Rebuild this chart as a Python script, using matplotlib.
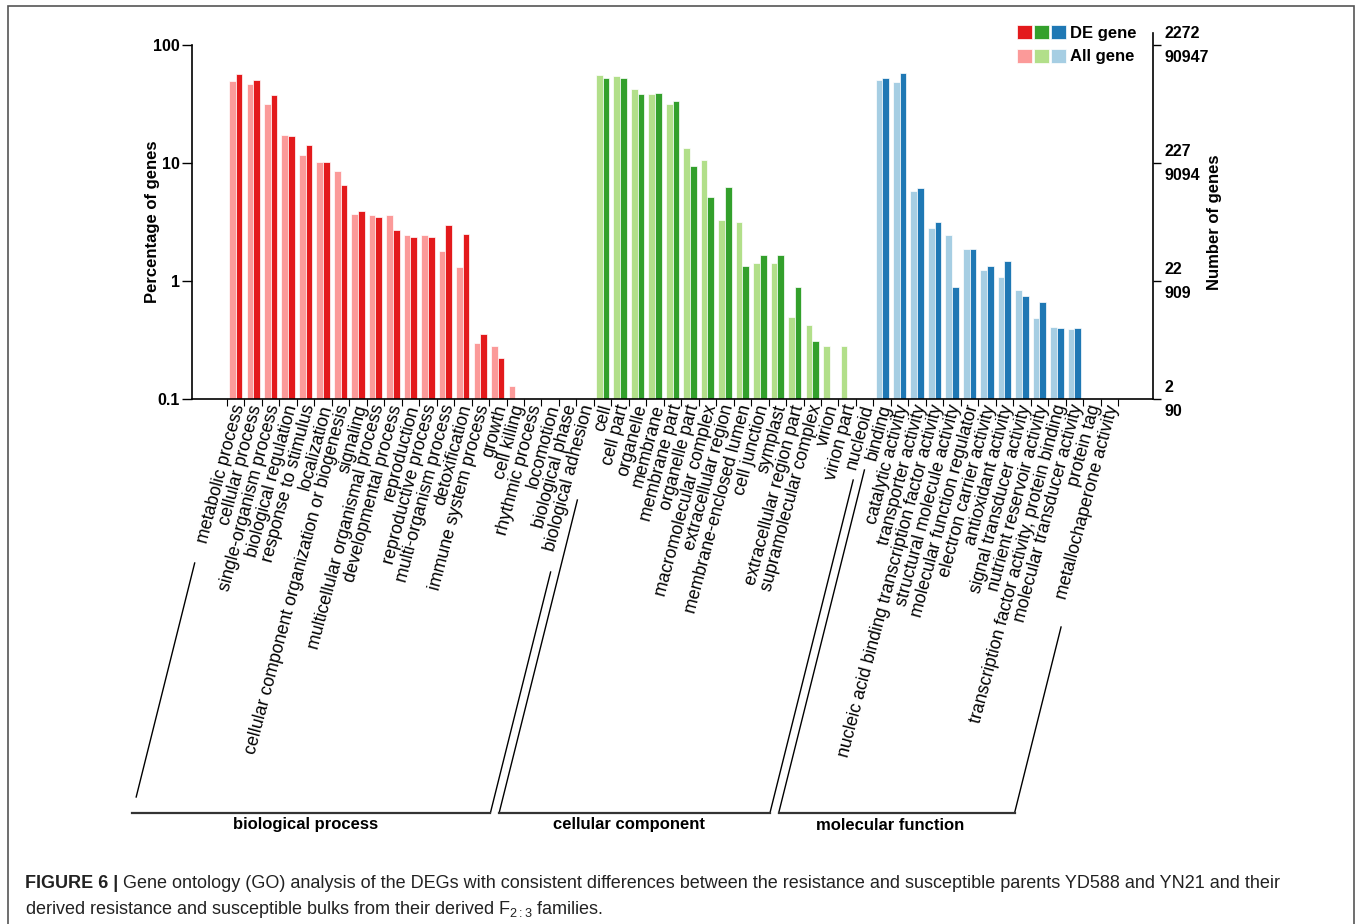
import numpy as np
import matplotlib
matplotlib.use("Agg")
import matplotlib.pyplot as plt
from matplotlib.patches import Patch, Rectangle
from matplotlib.legend_handler import HandlerTuple
from matplotlib.lines import Line2D
from matplotlib.ticker import NullLocator
from matplotlib.transforms import IdentityTransform, ScaledTranslation

plt.rcParams['font.family'] = ['Liberation Sans', 'DejaVu Sans']
plt.rcParams['mathtext.fontset'] = 'custom'
plt.rcParams['mathtext.rm'] = 'Liberation Sans'
plt.rcParams['mathtext.it'] = 'Liberation Sans:italic'
plt.rcParams['mathtext.bf'] = 'Liberation Sans:bold'

nan = np.nan

# biological process
bp_labels = ['metabolic process', 'cellular process', 'single-organism process',
             'biological regulation', 'response to stimulus', 'localization',
             'cellular component organization or biogenesis', 'signaling',
             'multicellular organismal process', 'developmental process',
             'reproduction', 'reproductive process', 'multi-organism process',
             'detoxification', 'immune system process', 'growth', 'cell killing',
             'rhythmic process', 'locomotion', 'biological phase', 'biological adhesion']
bp_all = [49.2, 46.8, 31.7, 17.4, 11.8, 10.2, 8.6, 3.67, 3.65, 3.62, 2.45, 2.45,
          1.81, 1.32, 0.30, 0.28, 0.128, nan, nan, nan, nan]
bp_de = [56.8, 50.2, 37.5, 16.9, 14.3, 10.2, 6.5, 3.94, 3.50, 2.68, 2.36, 2.37,
         3.00, 2.50, 0.354, 0.223, nan, nan, nan, nan, nan]

# cellular component
cc_labels = ['cell', 'cell part', 'organelle', 'membrane', 'membrane part',
             'organelle part', 'macromolecular complex', 'extracellular region',
             'membrane-enclosed lumen', 'cell junction', 'symplast',
             'extracellular region part', 'supramolecular complex', 'virion',
             'virion part', 'nucleoid']
cc_all = [55.4, 55.0, 42.7, 38.7, 31.9, 13.3, 10.7, 3.30, 3.18, 1.41, 1.41,
          0.50, 0.427, 0.282, 0.282, nan]
cc_de = [52.6, 52.6, 38.3, 39.3, 33.8, 9.4, 5.17, 6.24, 1.33, 1.67, 1.67,
         0.884, 0.308, nan, nan, nan]

# molecular function
mf_labels = ['binding', 'catalytic activity', 'transporter activity',
             'nucleic acid binding transcription factor activity',
             'structural molecule activity', 'molecular function regulator',
             'electron carrier activity', 'antioxidant activity',
             'signal transducer activity', 'nutrient reservoir activity',
             'transcription factor activity, protein binding',
             'molecular transducer activity', 'protein tag', 'metallochaperone activity']
mf_all = [50.9, 48.6, 5.81, 2.81, 2.45, 1.85, 1.24, 1.09, 0.834, 0.483, 0.405,
          0.390, nan, nan]
mf_de = [52.9, 58.3, 6.12, 3.16, 0.889, 1.85, 1.33, 1.47, 0.751, 0.668, 0.397,
         0.397, nan, nan]

group_names = ['biological process', 'cellular component', 'molecular function']
de_colors = ['#e31a1c', '#33a02c', '#1f78b4']
all_colors = ['#fb9a99', '#b2df8a', '#a6cee3']

right_ticks = [0.1, 1, 10, 100]
right_labels = ['2\n90', '22\n909', '227\n9094', '2272\n90947']
left_labels = ['0.1', '1', '10', '100']

groups = [(bp_labels, bp_all, bp_de), (cc_labels, cc_all, cc_de), (mf_labels, mf_all, mf_de)]

W, H = 1358, 924
fig = plt.figure(figsize=(W / 100, H / 100), dpi=100)
ax = fig.add_axes([192 / W, 1 - 399 / H, 961 / W, 354 / H])

labels = []
starts = []
pos = 0
for g, (labs, a, d) in enumerate(groups):
    x = np.arange(pos, pos + len(labs))
    starts.append((pos, pos + len(labs) - 1))
    ax.bar(x - 0.19, np.array(a, dtype=float), width=0.38, color=all_colors[g],
           edgecolor='white', linewidth=0.5)
    ax.bar(x + 0.19, np.array(d, dtype=float), width=0.38, color=de_colors[g],
           edgecolor='white', linewidth=0.5)
    labels += labs
    pos += len(labs)

n = len(labels)
ax.set_yscale('log')
ax.set_ylim(0.1, 100)
ax.set_xlim(-2.5, 52.5)
ax.yaxis.set_minor_locator(NullLocator())
ax.set_yticks(right_ticks)
ax.set_yticklabels(left_labels, fontweight='bold', fontsize=11.5)
ax.set_xticks(np.arange(n + 1) - 0.5)
ax.set_xticklabels([])
ax.tick_params(axis='x', length=5, width=0.8, direction='out')
ax.tick_params(axis='y', length=7, width=1, pad=2)
for s in ['top', 'right']:
    ax.spines[s].set_visible(False)
ax.spines['left'].set_linewidth(1.2)
ax.spines['bottom'].set_linewidth(1.2)

for i, lab in enumerate(labels):
    ax.annotate(lab, xy=(i, 0), xycoords=ax.get_xaxis_transform(),
                xytext=(4, -6), textcoords='offset pixels', rotation=75,
                ha='right', va='center', rotation_mode='anchor', fontsize=12.8)

ax2 = ax.twinx()
ax2.set_yscale('log')
ax2.set_ylim(0.1, 100)
ax2.yaxis.set_minor_locator(NullLocator())
ax2.set_yticks(right_ticks)
ax2.tick_params(axis='y', length=6, width=1, pad=2)
ax2.set_yticklabels(right_labels, fontweight='bold', fontsize=11.5)
shift = ScaledTranslation(0, 5 / 100, fig.dpi_scale_trans)
for t in ax2.get_yticklabels():
    t.set_linespacing(1.75)
    t.set_transform(t.get_transform() + shift)
for s in ['top', 'left', 'bottom', 'right']:
    ax2.spines[s].set_visible(False)
ax2.add_line(Line2D([1, 1], [0, 1 + 12 / 354], transform=ax2.transAxes,
                    color='black', lw=1.2, clip_on=False))

fig.text(152 / W, 1 - 222 / H, 'Percentage of genes', rotation=90, ha='center',
         va='center', fontsize=12, fontweight='bold')
fig.text(1215 / W, 1 - 222 / H, 'Number of genes', rotation=90, ha='center',
         va='center', fontsize=12, fontweight='bold')

# legend
de_h = tuple(Patch(facecolor=c, edgecolor='white', lw=0.5) for c in de_colors)
all_h = tuple(Patch(facecolor=c, edgecolor='white', lw=0.5) for c in all_colors)
fig.legend([de_h, all_h], ['DE gene', 'All gene'],
           handler_map={tuple: HandlerTuple(ndivide=None, pad=0.1)},
           loc='upper left', bbox_to_anchor=(1017 / W, 1 - 25 / H),
           frameon=False, borderpad=0, borderaxespad=0, handlelength=2.95,
           handleheight=0.9, handletextpad=0.2, labelspacing=0.48,
           prop={'weight': 'bold', 'size': 12})

# group brackets under the labels
fig.canvas.draw()
k = 0.25
y_axis = H - 399
y_bot = H - 813
tops = [(563, 572), (500, 480), (470, 627)]
for g, (a, b) in enumerate(starts):
    xl = ax.transData.transform((a, 1))[0]
    xr = ax.transData.transform((b + 0.5, 1))[0]
    lt, rt = H - tops[g][0], H - tops[g][1]
    lb = y_bot + (16 if g == 0 else 0)
    xl_b = xl - k * (y_axis - y_bot)
    xr_b = xr - k * (y_axis - y_bot)
    fig.add_artist(Line2D([xl - k * (y_axis - lb), xl - k * (y_axis - lt)], [lb, lt],
                          transform=IdentityTransform(), color='black', lw=1))
    fig.add_artist(Line2D([xr_b, xr - k * (y_axis - rt)], [y_bot, rt],
                          transform=IdentityTransform(), color='black', lw=1))
    fig.add_artist(Line2D([xl_b, xr_b], [y_bot, y_bot],
                          transform=IdentityTransform(), color='#333333', lw=1.6))
    fig.text((xl_b + xr_b) / 2 / W - 6 / W, 1 - 825 / H, group_names[g],
             ha='center', va='center', fontsize=12, fontweight='bold')

# frame and caption
fig.add_artist(Rectangle((8 / W, -0.05), (1354 - 8) / W, 1.05 - 6 / H,
                         transform=fig.transFigure, fill=False,
                         edgecolor='#555555', lw=1.2))
t1 = fig.text(25 / W, 1 - 884 / H, 'FIGURE 6 |', fontsize=13, fontweight='bold',
              color='#222222', va='center')
fig.canvas.draw()
bb = t1.get_window_extent()
fig.text((bb.x1 + 5) / W, 1 - 884 / H,
         'Gene ontology (GO) analysis of the DEGs with consistent differences between '
         'the resistance and susceptible parents YD588 and YN21 and their',
         fontsize=13, color='#222222', va='center')
fig.text(25 / W, 1 - 910 / H,
         r'derived resistance and susceptible bulks from their derived $\mathrm{F}_{2{:}3}$ families.',
         fontsize=13, color='#222222', va='center')

fig.savefig('out.png', dpi=100)
